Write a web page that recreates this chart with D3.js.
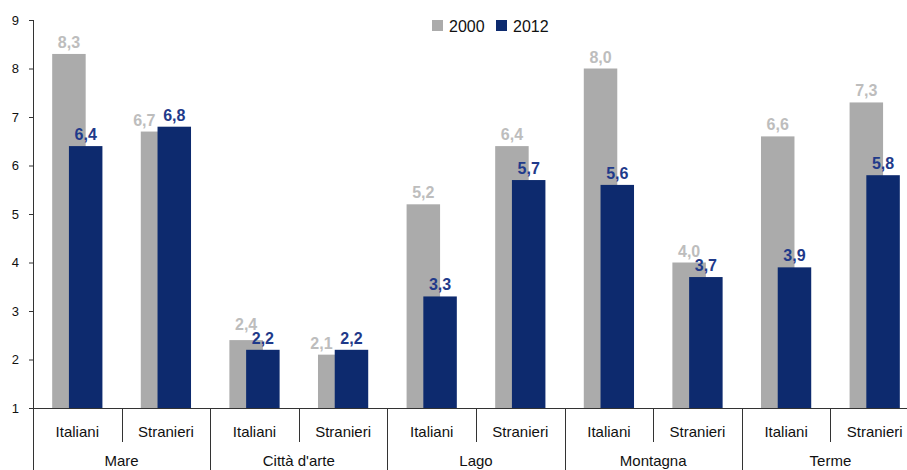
<!DOCTYPE html>
<html>
<head>
<meta charset="utf-8">
<script src="https://cdn.jsdelivr.net/npm/d3@7"></script>
<style>
  html, body { margin: 0; padding: 0; background: #fff; overflow: hidden; }
  svg { display: block; font-family: Arial, "Liberation Sans", sans-serif; }
</style>
</head>
<body>
<svg id="chart" width="907" height="470"></svg>
<script>
// Destinations and visitor origin
const groups = ["Mare", "Città d'arte", "Lago", "Montagna", "Terme"];
const origins = ["Italiani", "Stranieri"];
const series = ["2000", "2012"];

// Values per bar slot (group × origin), in slot order
const values2000 = [8.3, 6.7, 2.4, 2.1, 5.2, 6.4, 8.0, 4.0, 6.6, 7.3];
const values2012 = [6.4, 6.8, 2.2, 2.2, 3.3, 5.7, 5.6, 3.7, 3.9, 5.8];

const yTicks = [1, 2, 3, 4, 5, 6, 7, 8, 9];

const colors = { "2000": "#ABABAB", "2012": "#0D2A6E" };
const labelColors = { "2000": "#BDBDBD", "2012": "#1F3A8A" };

const svg = d3.select("#chart");
const plot = { left: 33, right: 919, top: 20, bottom: 408 };

const slots = [];
groups.forEach(g => origins.forEach(o => slots.push({ group: g, origin: o, key: g + "|" + o })));
slots.forEach((s, i) => { s.v2000 = values2000[i]; s.v2012 = values2012[i]; });

const x = d3.scaleBand().domain(slots.map(s => s.key)).range([plot.left, plot.right]).paddingInner(0).paddingOuter(0);
const y = d3.scaleLinear().domain([1, 9]).range([plot.bottom, plot.top]);

const slotW = x.bandwidth();
const barW = slotW * 0.378;        // bar width
const step = barW * 0.5;           // 50% overlap between series
const clusterW = barW + step;
const offset = (slotW - clusterW) / 2;

const barX = (s, k) => x(s.key) + offset + (k === "2012" ? step : 0);

// Bars (2000 drawn first, 2012 overlapping on top)
series.forEach(k => {
  svg.append("g").selectAll("rect")
    .data(slots)
    .join("rect")
    .attr("x", s => barX(s, k))
    .attr("y", s => y(s["v" + k]))
    .attr("width", barW)
    .attr("height", s => y(1) - y(s["v" + k]))
    .attr("fill", colors[k]);
});

// Value labels: centred over each bar. When the 2000 and 2012 labels of a
// slot sit at nearly the same height, the 2000 one is nudged to the left;
// when they are only slightly apart, the upper one is lifted clear.
const fmt = v => v.toFixed(1).replace(".", ",");
const labelGap = 6, labelHalfW = 11, minDy = 8, lineH = 14;
const labels = [];
slots.forEach(s => {
  let yOld = y(s.v2000) - labelGap, yNew = y(s.v2012) - labelGap;
  const cxOld = barX(s, "2000") + barW / 2, cxNew = barX(s, "2012") + barW / 2;
  let xOld = cxOld;
  const dy = Math.abs(yOld - yNew);
  if (dy < minDy) {
    xOld = Math.min(cxOld, cxNew - 2 * labelHalfW - 8);
  } else if (dy < lineH) {
    if (yOld < yNew) yOld = yNew - lineH; else yNew = yOld - lineH;
  }
  labels.push({ k: "2000", x: xOld, y: yOld, v: s.v2000 });
  labels.push({ k: "2012", x: cxNew, y: yNew, v: s.v2012 });
});
svg.append("g").selectAll("text")
  .data(labels)
  .join("text")
  .attr("x", d => d.x)
  .attr("y", d => d.y)
  .attr("text-anchor", "middle")
  .attr("font-size", 16)
  .attr("font-weight", "bold")
  .attr("fill", d => labelColors[d.k])
  .text(d => fmt(d.v));

// Y axis
const yAxis = d3.axisLeft(y).tickValues(yTicks).tickSize(4).tickPadding(10).tickFormat(d3.format("d"));
const yg = svg.append("g").attr("transform", `translate(${plot.left},0)`).call(yAxis);
yg.select(".domain").remove();
yg.selectAll("line").attr("stroke", "#333");
yg.selectAll("text").attr("font-size", 13).attr("fill", "#111").attr("font-family", "Arial, sans-serif");

// Axis lines
svg.append("line").attr("x1", plot.left + 0.5).attr("x2", plot.left + 0.5).attr("y1", plot.top).attr("y2", 470)
  .attr("stroke", "#333");
svg.append("line").attr("x1", plot.left).attr("x2", plot.right).attr("y1", plot.bottom + 0.5).attr("y2", plot.bottom + 0.5)
  .attr("stroke", "#333");

// Separators: short between origins, long between groups
slots.forEach((s, i) => {
  if (i === 0) return;
  const sx = Math.round(x(s.key)) + 0.5;
  const isGroup = s.origin === origins[0];
  svg.append("line").attr("x1", sx).attr("x2", sx)
    .attr("y1", plot.bottom).attr("y2", isGroup ? 470 : 442)
    .attr("stroke", "#333");
});

// Origin labels
svg.append("g").selectAll("text")
  .data(slots)
  .join("text")
  .attr("x", s => x(s.key) + slotW / 2)
  .attr("y", 437)
  .attr("text-anchor", "middle")
  .attr("font-size", 15)
  .attr("fill", "#111")
  .text(s => s.origin);

// Group labels
svg.append("g").selectAll("text")
  .data(groups)
  .join("text")
  .attr("x", g => x(g + "|" + origins[0]) + slotW)
  .attr("y", 466)
  .attr("text-anchor", "middle")
  .attr("font-size", 15)
  .attr("fill", "#111")
  .text(g => g);

// Legend
const legend = svg.append("g");
const legendX = [432, 496];
series.forEach((k, i) => {
  legend.append("rect").attr("x", legendX[i]).attr("y", 20).attr("width", 11).attr("height", 11)
    .attr("fill", colors[k]);
  legend.append("text").attr("x", legendX[i] + 17).attr("y", 32)
    .attr("font-size", 16).attr("fill", "#111").text(k);
});
</script>
</body>
</html>
